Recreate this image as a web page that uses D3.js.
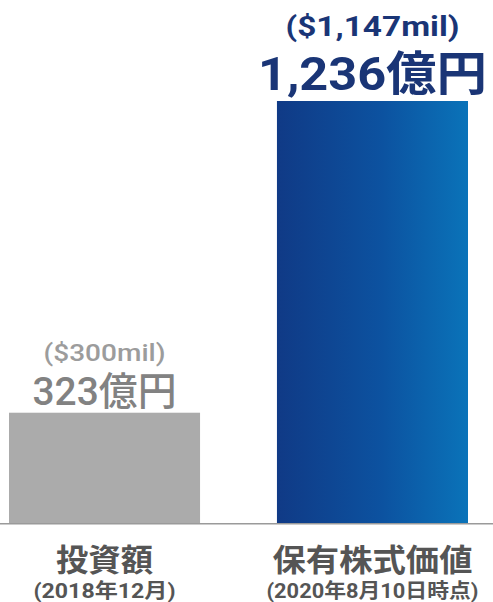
<!DOCTYPE html>
<html lang="ja">
<head>
<meta charset="utf-8">
<script src="https://cdn.jsdelivr.net/npm/d3@7"></script>
<style>
  html, body { margin: 0; padding: 0; background: #fff; }
  svg { display: block; }
</style>
</head>
<body>
<svg id="chart" width="493" height="602"></svg>
<script>
// Investment amount vs. value of shares held
const categories = ["投資額", "保有株式価値"];
const subLabels = ["(2018年12月)", "(2020年8月10日時点)"];
const valuesOku = [323, 1236];      // 億円
const valuesUsdMil = [300, 1147];   // $ mil

const W = 493, H = 602;
const baseY = 523;
const topY = 101;

const svg = d3.select("#chart");

const x = d3.scaleBand()
  .domain(categories)
  .range([9, 468])
  .paddingInner(0.287)
  .paddingOuter(0);

const y = d3.scaleLinear()
  .domain([0, d3.max(valuesOku)])
  .range([baseY, topY]);

// Blue gradient for the current-value bar
const defs = svg.append("defs");
const grad = defs.append("linearGradient")
  .attr("id", "blueGrad")
  .attr("x1", "0%").attr("x2", "100%")
  .attr("y1", "0%").attr("y2", "0%");
grad.append("stop").attr("offset", "0%").attr("stop-color", "#103a86");
grad.append("stop").attr("offset", "55%").attr("stop-color", "#0c52a0");
grad.append("stop").attr("offset", "100%").attr("stop-color", "#0a73b9");

const barFill = ["#ababab", "url(#blueGrad)"];
const valueColor = ["#828282", "#1a3576"];
const milColor = ["#9c9c9c", "#1a3576"];
const valueSize = [39, 47];
const valueWeight = [500, 700];
const milWeight = [500, 700];
const milSize = [23, 27];
const valueWidth = [144, 229];
const milWidth = [122, 174];
const valueGap = [8, 11];
const milGap = [52, 65];

const data = categories.map((c, i) => ({
  cat: c, sub: subLabels[i], oku: valuesOku[i], usd: valuesUsdMil[i], i
}));

const fmt = d3.format(",");

// Bars
svg.selectAll("rect.bar")
  .data(data)
  .join("rect")
  .attr("class", "bar")
  .attr("x", d => x(d.cat))
  .attr("y", d => y(d.oku))
  .attr("width", x.bandwidth())
  .attr("height", d => baseY - y(d.oku))
  .attr("fill", d => barFill[d.i]);

// Baseline
svg.append("line")
  .attr("x1", 0).attr("x2", W)
  .attr("y1", baseY + 0.75).attr("y2", baseY + 0.75)
  .attr("stroke", "#9a9a9a")
  .attr("stroke-width", 1.5);

const latinFont = "Roboto, 'Noto Sans CJK JP', sans-serif";
const cjkFont = "'Noto Sans CJK JP', sans-serif";

// Value labels (億円)
svg.selectAll("text.value")
  .data(data)
  .join("text")
  .attr("class", "value")
  .attr("x", d => x(d.cat) + x.bandwidth() / 2)
  .attr("y", d => y(d.oku) - valueGap[d.i])
  .attr("text-anchor", "middle")
  .attr("font-family", latinFont)
  .attr("font-weight", d => valueWeight[d.i])
  .attr("font-size", d => valueSize[d.i])
  .attr("fill", d => valueColor[d.i])
  .attr("textLength", d => valueWidth[d.i])
  .attr("lengthAdjust", "spacingAndGlyphs")
  .text(d => fmt(d.oku) + "億円");

// Dollar labels
svg.selectAll("text.usd")
  .data(data)
  .join("text")
  .attr("class", "usd")
  .attr("x", d => x(d.cat) + x.bandwidth() / 2)
  .attr("y", d => y(d.oku) - milGap[d.i])
  .attr("text-anchor", "middle")
  .attr("font-family", latinFont)
  .attr("font-weight", d => milWeight[d.i])
  .attr("font-size", d => milSize[d.i])
  .attr("fill", d => milColor[d.i])
  .attr("textLength", d => milWidth[d.i])
  .attr("lengthAdjust", "spacingAndGlyphs")
  .text(d => "($" + fmt(d.usd) + "mil)");

// Category labels
const catWidth = [97, 200];
svg.selectAll("text.cat")
  .data(data)
  .join("text")
  .attr("class", "cat")
  .attr("x", d => x(d.cat) + x.bandwidth() / 2)
  .attr("y", 571)
  .attr("text-anchor", "middle")
  .attr("font-family", cjkFont)
  .attr("font-weight", 700)
  .attr("font-size", 31)
  .attr("fill", "#555555")
  .attr("textLength", d => catWidth[d.i])
  .attr("lengthAdjust", "spacingAndGlyphs")
  .text(d => d.cat);

const subWidth = [142, 212];
svg.selectAll("text.sub")
  .data(data)
  .join("text")
  .attr("class", "sub")
  .attr("x", d => x(d.cat) + x.bandwidth() / 2)
  .attr("y", 598)
  .attr("text-anchor", "middle")
  .attr("font-family", latinFont)
  .attr("font-weight", 700)
  .attr("font-size", 20)
  .attr("fill", "#555555")
  .attr("textLength", d => subWidth[d.i])
  .attr("lengthAdjust", "spacingAndGlyphs")
  .text(d => d.sub);
</script>
</body>
</html>
